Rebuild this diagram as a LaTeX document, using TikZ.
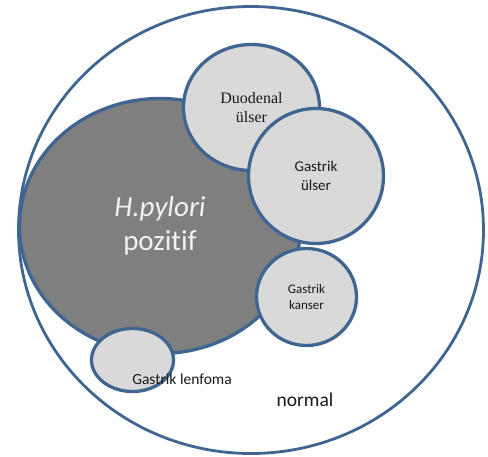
\documentclass[tikz,border=0pt]{standalone}
\usepackage{fontspec}
\setmainfont[Ligatures={NoCommon}]{Carlito}
\newfontfamily\duofont{Liberation Serif}
\usetikzlibrary{shapes.geometric}
\definecolor{rimblue}{HTML}{3F6590}
\definecolor{hpgray}{HTML}{7F7F7F}
\definecolor{sublight}{HTML}{D9D9D9}
\begin{document}
\begin{tikzpicture}[x=1pt, y=-1pt,
    set/.style={ellipse, draw=rimblue, line width=3.3pt, inner sep=0pt, align=center, text=black!90},
    subset/.style={set, fill=sublight}]
    \useasboundingbox (0,0) rectangle (488,456);
    % outer set and the H.pylori set
    \node (normal) at (251,230) [set, fill=white, line width=2.8pt, minimum width=465pt, minimum height=447pt] {};
    \node (hp) at (160,226) [set, fill=hpgray, minimum width=281pt, minimum height=255pt, text=white!95!black, font=\fontsize{29}{34}\selectfont] {\textit{H.pylori}\\pozitif};
    % diseases
    \node (lenf) at (132.5,360) [subset, minimum width=82pt, minimum height=63pt] {};
    \node (duo) at (251.5,107.5) [subset, minimum width=136pt, minimum height=126pt, font=\duofont\fontsize{16}{19}\selectfont] {Duodenal\\ülser};
    \node (gu) at (316,176) [subset, minimum width=135pt, minimum height=135pt, font=\fontsize{15}{19}\selectfont] {Gastrik\\ülser};
    \node (gk) at (306.5,297) [subset, minimum width=100pt, minimum height=97pt, font=\fontsize{13}{16}\selectfont] {Gastrik\\kanser};
    % free labels
    \node (lenflbl) at (182,379) [text=black!90, font=\fontsize{15.5}{18}\selectfont] {Gastrik lenfoma};
    \node (normallbl) at (305,400) [text=black!90, font=\fontsize{19.5}{22}\selectfont] {normal};
\end{tikzpicture}
\end{document}
